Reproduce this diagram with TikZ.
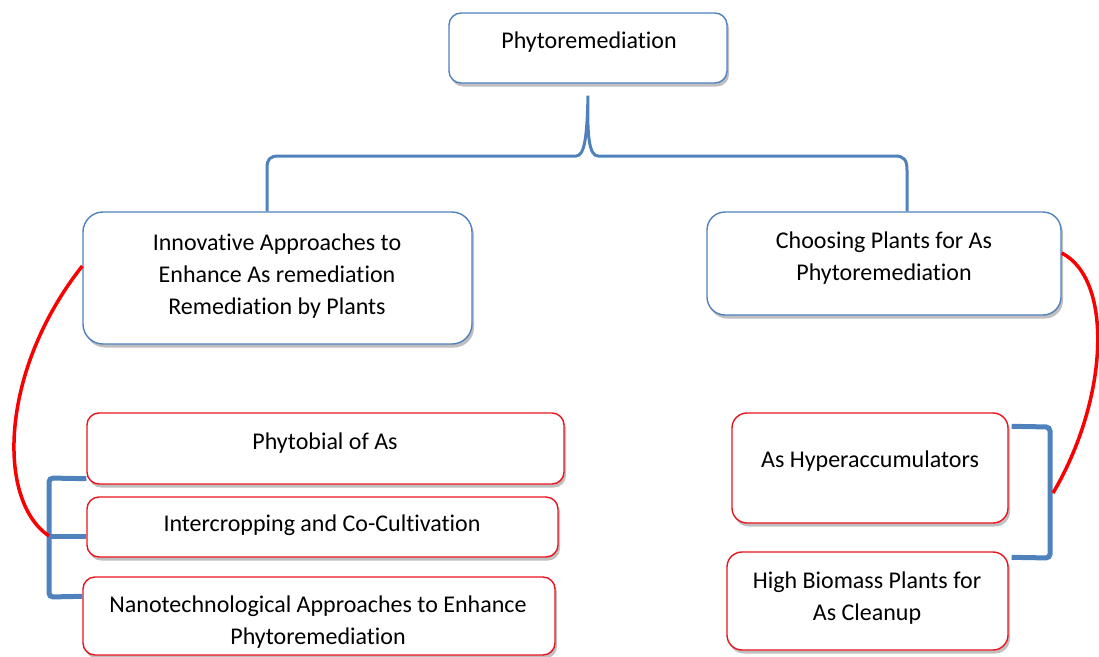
\documentclass[tikz,border=0pt]{standalone}
\usepackage{fontspec}
\setmainfont{Carlito}[Ligatures=NoCommon]
\usetikzlibrary{shadows}
\definecolor{offblue}{RGB}{79,129,189}
\definecolor{boxred}{RGB}{232,20,30}
\definecolor{linered}{RGB}{250,0,0}
\tikzset{
  box/.style={draw, line width=1.4pt, fill=white, inner sep=0pt,
    drop shadow={shadow xshift=2pt, shadow yshift=-3.5pt, opacity=0.25, fill=black}},
  bluebox/.style={box, draw=offblue},
  redbox/.style={box, draw=boxred},
  txt/.style={inner sep=0pt, align=center, font=\fontsize{24}{32}\selectfont},
  brace/.style={draw=offblue, line width=3pt},
  bracket/.style={draw=offblue, line width=5pt, rounded corners=4pt},
  redline/.style={draw=linered, line width=3.5pt}
}
\begin{document}
\begin{tikzpicture}[x=1pt,y=-1pt]
\useasboundingbox (0,0) rectangle (1099,656);
% boxes
\node[bluebox, rounded corners=12pt, minimum width=278pt, minimum height=70pt] (boxT) at (588,48) {};
\node[bluebox, rounded corners=20pt, minimum width=389pt, minimum height=132pt] (boxL) at (277.5,278) {};
\node[bluebox, rounded corners=18pt, minimum width=354pt, minimum height=103pt] (boxR) at (884,263.5) {};
\node[redbox, rounded corners=12pt, minimum width=477pt, minimum height=71pt] (boxP) at (325.5,448.5) {};
\node[redbox, rounded corners=12pt, minimum width=471pt, minimum height=60pt] (boxI) at (322.5,527) {};
\node[redbox, rounded corners=12pt, minimum width=472pt, minimum height=78pt] (boxN) at (319,616) {};
\node[redbox, rounded corners=15pt, minimum width=276pt, minimum height=110pt] (boxH) at (870,468) {};
\node[redbox, rounded corners=15pt, minimum width=281pt, minimum height=98pt] (boxB) at (867.5,601) {};
% texts
\node[txt] (tT) at (589,42) {Phytoremediation};
\node[txt] (tL) at (277,276) {Innovative Approaches to\\Enhance As remediation\\Remediation by Plants};
\node[txt] (tR) at (884,258.5) {Choosing Plants for As\\Phytoremediation};
\node[txt] (tP) at (325,443) {Phytobial of As};
\node[txt] (tI) at (322,525) {Intercropping and Co-Cultivation};
\node[txt] (tN) at (318,622.5) {Nanotechnological Approaches to Enhance\\Phytoremediation};
\node[txt] (tH) at (870,461) {As Hyperaccumulators};
\node[txt] (tB) at (867,598) {High Biomass Plants for\\As Cleanup};
% top brace
\draw[brace] ([xshift=-10.5pt]boxL.north) -- (267,168)
  .. controls (267,159) and (270,156) .. (279,156) -- (576,156)
  .. controls (585,156) and (587,135) .. ([yshift=-12pt]boxT.south)
  .. controls (587,135) and (589,156) .. (598,156) -- (895,156)
  .. controls (904,156) and (907,160) .. (907,170) -- ([xshift=23pt]boxR.north);
% left bracket
\coordinate (lmid) at (49,536);
\draw[bracket] ([yshift=6pt]boxP.south west) -- (49,478) -- (49,597) -- ([yshift=-20pt]boxN.north west);
\draw[bracket] (lmid) -- ([yshift=-9pt]boxI.west);
% right bracket
\coordinate (rmid) at (1053,493);
\draw[bracket] ([yshift=-14pt,xshift=3pt]boxH.north east) -- (1050,427) -- (1050,558) -- ([yshift=-6pt,xshift=3pt]boxB.north east);
% red connectors
\draw[redline] ([yshift=12pt]boxL.west) .. controls (0,370) and (-4,500) .. (lmid);
\draw[redline] ([yshift=10.5pt]boxR.east) .. controls (1114,280) and (1108,400) .. (rmid);
\end{tikzpicture}
\end{document}
